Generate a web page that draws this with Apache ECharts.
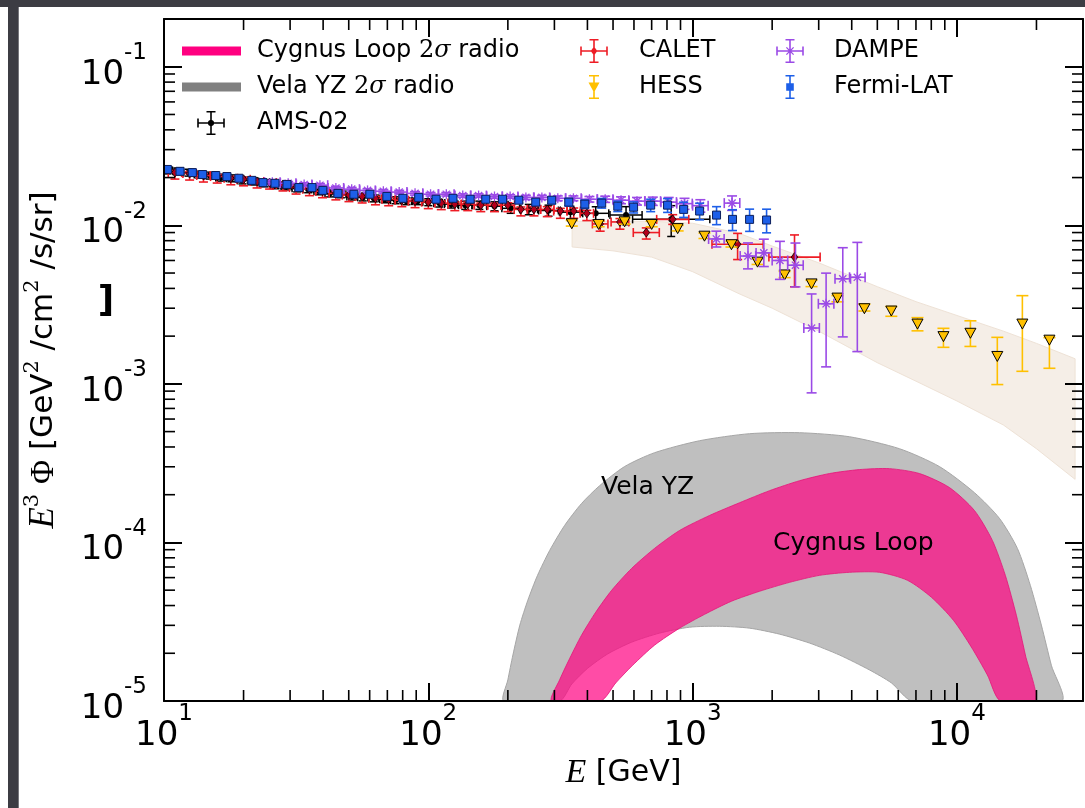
<!DOCTYPE html>
<html>
<head>
<meta charset="utf-8">
<title>Electron + positron spectrum</title>
<script src="https://cdn.jsdelivr.net/npm/echarts@6/dist/echarts.min.js"></script>
<style>
html, body { margin: 0; padding: 0; background: #ffffff; }
#chart { width: 1085px; height: 808px; }
</style>
</head>
<body>
<div id="chart"></div>
<script>
// ---------- axis ranges and tick values ----------
const xMin = 10, xMax = 30000;
const yMin = 1e-5, yMax = 0.2;
const xDecades = [10, 100, 1000, 10000];
const yDecades = [1e-5, 1e-4, 1e-3, 1e-2, 1e-1];
const minorSteps = [2, 3, 4, 5, 6, 7, 8, 9];

// ---------- AMS-02 ----------
const amsE = [10.3, 11.3, 12.4, 13.6, 14.9, 16.4, 18.0, 19.8, 21.8, 24.0, 26.4, 29.0, 31.9, 35.1, 38.6, 42.5, 46.7, 51.4, 56.5, 62.2, 68.4, 75.2, 82.7, 91.0, 100, 110, 122, 138, 156, 178, 205, 240, 285, 345, 430, 560, 830];
const amsFlux = [0.0222, 0.0219, 0.0215, 0.0209, 0.0206, 0.0200, 0.0198, 0.0192, 0.0189, 0.0184, 0.0179, 0.0176, 0.0171, 0.0169, 0.0164, 0.0159, 0.0157, 0.0152, 0.0150, 0.0148, 0.0146, 0.0144, 0.0142, 0.0142, 0.0140, 0.0138, 0.0136, 0.0134, 0.0134, 0.0132, 0.0128, 0.0126, 0.0124, 0.0121, 0.0119, 0.0116, 0.0109];
const amsErr = [0.05, 0.05, 0.05, 0.05, 0.05, 0.05, 0.05, 0.05, 0.05, 0.05, 0.05, 0.05, 0.05, 0.05, 0.05, 0.05, 0.05, 0.05, 0.05, 0.05, 0.05, 0.05, 0.05, 0.05, 0.05, 0.055, 0.055, 0.06, 0.06, 0.065, 0.07, 0.075, 0.08, 0.09, 0.1, 0.13, 0.22];
const amsBin = [0.045, 0.045, 0.045, 0.045, 0.045, 0.045, 0.045, 0.045, 0.045, 0.045, 0.045, 0.045, 0.045, 0.045, 0.045, 0.045, 0.045, 0.045, 0.045, 0.045, 0.045, 0.045, 0.045, 0.045, 0.05, 0.05, 0.06, 0.06, 0.065, 0.07, 0.08, 0.08, 0.09, 0.1, 0.12, 0.15, 0.4];

// ---------- CALET ----------
const calE = [11.0, 12.5, 14.1, 15.9, 17.9, 20.0, 22.5, 25.1, 28.2, 31.6, 35.5, 39.8, 44.7, 50.1, 56.2, 63.1, 70.8, 79.4, 89.1, 100, 112, 126, 141, 158, 178, 200, 224, 251, 282, 316, 355, 398, 447, 531, 668, 841, 1480, 2430];
const calFlux = [0.0215, 0.0212, 0.0206, 0.0203, 0.0198, 0.0195, 0.0189, 0.0186, 0.0181, 0.0173, 0.0169, 0.0164, 0.0159, 0.0155, 0.0152, 0.0148, 0.0146, 0.0144, 0.0142, 0.0140, 0.0138, 0.0136, 0.0136, 0.0134, 0.0134, 0.0134, 0.0126, 0.0126, 0.0126, 0.0123, 0.0123, 0.0119, 0.0102, 0.0105, 0.0090, 0.0109, 0.0076, 0.0063];
const calErrUp = [0.03, 0.03, 0.03, 0.03, 0.03, 0.03, 0.03, 0.03, 0.03, 0.03, 0.03, 0.03, 0.03, 0.03, 0.03, 0.03, 0.03, 0.03, 0.03, 0.03, 0.03, 0.03, 0.03, 0.03, 0.03, 0.035, 0.035, 0.04, 0.04, 0.04, 0.045, 0.045, 0.05, 0.05, 0.07, 0.07, 0.17, 0.38];
const calErrDn = [0.09, 0.09, 0.09, 0.09, 0.09, 0.09, 0.09, 0.09, 0.09, 0.09, 0.09, 0.09, 0.09, 0.09, 0.09, 0.09, 0.09, 0.09, 0.09, 0.09, 0.09, 0.09, 0.09, 0.09, 0.09, 0.09, 0.09, 0.09, 0.1, 0.1, 0.1, 0.1, 0.1, 0.1, 0.09, 0.07, 0.2, 0.35];
const calBin = [0.06, 0.06, 0.06, 0.06, 0.06, 0.06, 0.06, 0.06, 0.06, 0.06, 0.06, 0.06, 0.06, 0.06, 0.06, 0.06, 0.06, 0.06, 0.06, 0.06, 0.06, 0.06, 0.06, 0.06, 0.06, 0.06, 0.06, 0.06, 0.06, 0.06, 0.06, 0.06, 0.07, 0.08, 0.12, 0.15, 0.25, 0.25];

// ---------- HESS ----------
const hessE = [349, 441, 553, 700, 878, 1109, 1403, 1761, 2229, 2818, 3533, 4467, 5649, 7094, 8894, 11250, 14220, 17690, 22390];
const hessFlux = [0.0103, 0.0102, 0.0106, 0.0102, 0.0096, 0.0086, 0.0076, 0.0059, 0.0049, 0.0043, 0.0035, 0.0030, 0.0029, 0.0024, 0.0020, 0.0021, 0.0015, 0.0024, 0.0019];
const hessErrUp = [0.04, 0.04, 0.04, 0.04, 0.04, 0.04, 0.04, 0.04, 0.045, 0.045, 0.03, 0.06, 0.06, 0.09, 0.12, 0.19, 0.31, 0.50, 0.03];
const hessErrDn = [0.04, 0.04, 0.04, 0.04, 0.04, 0.04, 0.04, 0.04, 0.045, 0.045, 0.06, 0.04, 0.08, 0.10, 0.15, 0.18, 0.34, 0.50, 0.34];

// HESS systematic band
const sysE = [350, 500, 700, 1000, 1500, 2000, 3000, 5000, 7000, 10000, 15000, 20000, 28000];
const sysHi = [0.0106, 0.0106, 0.0106, 0.0103, 0.0089, 0.0074, 0.0058, 0.0041, 0.0033, 0.0027, 0.00215, 0.0018, 0.00144];
const sysLo = [0.0073, 0.0069, 0.0063, 0.0051, 0.0037, 0.0030, 0.00215, 0.00136, 0.00104, 0.00078, 0.00055, 0.00039, 0.00025];

// ---------- DAMPE ----------
const dampeE = [25.7, 29.5, 33.9, 38.9, 44.7, 51.3, 58.9, 67.6, 77.6, 89.1, 102, 117, 135, 155, 178, 204, 234, 269, 309, 354, 407, 467, 536, 616, 707, 812, 932, 1070, 1230, 1410, 1620, 1860, 2140, 2450, 2820, 3200, 3700, 4200];
const dampeFlux = [0.0187, 0.0184, 0.0181, 0.0179, 0.0172, 0.0169, 0.0166, 0.0164, 0.0162, 0.0159, 0.0157, 0.0157, 0.0154, 0.0154, 0.0152, 0.0152, 0.0150, 0.0150, 0.0148, 0.0148, 0.0146, 0.0146, 0.0144, 0.0142, 0.0142, 0.0140, 0.0137, 0.0133, 0.0082, 0.0138, 0.0064, 0.0067, 0.0060, 0.0056, 0.00225, 0.0032, 0.0046, 0.0047];
const dampeErrUp = [0.025, 0.025, 0.025, 0.025, 0.025, 0.025, 0.025, 0.025, 0.025, 0.025, 0.025, 0.025, 0.025, 0.025, 0.025, 0.025, 0.03, 0.03, 0.035, 0.035, 0.04, 0.045, 0.05, 0.055, 0.06, 0.07, 0.08, 0.09, 0.12, 0.11, 0.21, 0.22, 0.32, 0.38, 0.64, 0.56, 0.57, 0.66];
const dampeErrDn = [0.025, 0.025, 0.025, 0.025, 0.025, 0.025, 0.025, 0.025, 0.025, 0.025, 0.025, 0.025, 0.025, 0.025, 0.025, 0.025, 0.03, 0.03, 0.035, 0.035, 0.04, 0.045, 0.05, 0.055, 0.06, 0.07, 0.08, 0.09, 0.11, 0.10, 0.17, 0.18, 0.24, 0.27, 0.61, 0.60, 0.57, 0.66];
const dampeBin = [0.07, 0.07, 0.07, 0.07, 0.07, 0.07, 0.07, 0.07, 0.07, 0.07, 0.07, 0.07, 0.07, 0.07, 0.07, 0.07, 0.07, 0.07, 0.07, 0.07, 0.07, 0.07, 0.07, 0.07, 0.07, 0.07, 0.07, 0.07, 0.07, 0.07, 0.07, 0.07, 0.07, 0.07, 0.07, 0.07, 0.07, 0.07];

// ---------- Fermi-LAT ----------
const fermiE = [10.3, 11.5, 12.8, 14.0, 15.7, 17.3, 19.2, 21.5, 23.7, 26.3, 29.2, 32.4, 36.3, 39.9, 45.5, 52.3, 60.1, 69.7, 80.1, 92.0, 107, 124, 144, 165, 191, 220, 255, 293, 340, 391, 453, 521, 598, 694, 804, 925, 1063, 1232, 1416, 1643, 1905];
const fermiFlux = [0.0225, 0.0219, 0.0215, 0.0209, 0.0206, 0.0203, 0.0198, 0.0192, 0.0186, 0.0184, 0.0181, 0.0173, 0.0173, 0.0166, 0.0159, 0.0157, 0.0157, 0.0152, 0.0148, 0.0150, 0.0146, 0.0148, 0.0146, 0.0146, 0.0146, 0.0144, 0.0140, 0.0144, 0.0140, 0.0136, 0.0138, 0.0132, 0.0130, 0.0134, 0.0134, 0.0126, 0.0123, 0.0116, 0.0109, 0.0109, 0.0108];
const fermiErr = [0.02, 0.02, 0.02, 0.02, 0.02, 0.02, 0.02, 0.02, 0.02, 0.02, 0.025, 0.025, 0.025, 0.025, 0.025, 0.025, 0.025, 0.025, 0.025, 0.025, 0.03, 0.03, 0.035, 0.035, 0.04, 0.04, 0.045, 0.05, 0.055, 0.06, 0.07, 0.075, 0.08, 0.09, 0.1, 0.11, 0.12, 0.13, 0.15, 0.16, 0.17];

// ---------- radio-model bands ----------
const velaUpperE = [193, 200, 209, 222, 238, 259, 288, 328, 380, 445, 553, 718, 1063, 1643, 2538, 3924, 6063, 8587, 11650, 14480, 16940, 18960, 20870, 22770, 24840];
const velaUpperV = [1.0e-5, 1.36e-5, 1.95e-5, 3.01e-5, 4.32e-5, 6.20e-5, 8.91e-5, 1.28e-4, 1.76e-4, 2.28e-4, 3.01e-4, 3.68e-4, 4.38e-4, 4.85e-4, 4.92e-4, 4.64e-4, 3.90e-4, 3.01e-4, 2.06e-4, 1.42e-4, 9.17e-5, 5.36e-5, 3.01e-5, 1.68e-5, 1.0e-5];
const velaLowerE = [314, 349, 401, 477, 588, 750, 974, 1265, 1643, 2133, 2769, 3596, 4669, 5654, 6788];
const velaLowerV = [1.0e-5, 1.28e-5, 1.61e-5, 1.98e-5, 2.35e-5, 2.68e-5, 2.92e-5, 2.96e-5, 2.88e-5, 2.64e-5, 2.32e-5, 1.95e-5, 1.57e-5, 1.30e-5, 1.0e-5];

const cygUpperE = [293, 314, 343, 380, 430, 494, 588, 718, 893, 1160, 1506, 1955, 2538, 3296, 4279, 5557, 7215, 9367, 11650, 13620, 15250, 16790, 18160, 19810];
const cygUpperV = [1.0e-5, 1.36e-5, 1.86e-5, 2.60e-5, 3.63e-5, 4.99e-5, 6.86e-5, 9.17e-5, 1.19e-4, 1.48e-4, 1.78e-4, 2.12e-4, 2.45e-4, 2.72e-4, 2.88e-4, 2.92e-4, 2.72e-4, 2.22e-4, 1.59e-4, 1.03e-4, 6.20e-5, 3.47e-5, 1.95e-5, 1.0e-5];
const cygLowerE = [449, 512, 593, 718, 893, 1110, 1404, 1792, 2326, 3021, 3924, 5093, 6500, 8010, 9700, 11340, 13040, 14600];
const cygLowerV = [1.0e-5, 1.30e-5, 1.68e-5, 2.25e-5, 2.88e-5, 3.52e-5, 4.26e-5, 4.92e-5, 5.60e-5, 6.20e-5, 6.48e-5, 6.48e-5, 5.77e-5, 4.51e-5, 3.23e-5, 2.19e-5, 1.46e-5, 1.0e-5];

// ---------- styling ----------
const FONT = 'DejaVu Sans';
const PINK = '#ff0080';
const GRAY = '#808080';
const RED = '#ee1c25';
const GOLD = '#ffc000';
const PURPLE = '#9b4ae6';
const BLUE = '#1d5fe8';

function line(x1, y1, x2, y2, style) {
  return { type: 'line', shape: { x1: x1, y1: y1, x2: x2, y2: y2 }, style: style };
}

function markerShapes(kind, cx, cy) {
  if (kind === 'circle') {
    return [{ type: 'circle', shape: { cx: cx, cy: cy, r: 3 }, style: { fill: '#000' } }];
  }
  if (kind === 'diamond') {
    return [{ type: 'polygon', shape: { points: [[cx, cy - 4.5], [cx + 3.3, cy], [cx, cy + 4.5], [cx - 3.3, cy]] },
      style: { fill: '#b3001b', stroke: '#000', lineWidth: 0.8 } }];
  }
  if (kind === 'star') {
    const s = { stroke: PURPLE, lineWidth: 1.3 };
    const r = 5, d = 3.6;
    return [line(cx - r, cy, cx + r, cy, s), line(cx, cy - r, cx, cy + r, s),
            line(cx - d, cy - d, cx + d, cy + d, s), line(cx - d, cy + d, cx + d, cy - d, s)];
  }
  if (kind === 'square') {
    return [{ type: 'rect', shape: { x: cx - 4, y: cy - 4, width: 8, height: 8 },
      style: { fill: BLUE, stroke: '#0c1f5c', lineWidth: 1 } }];
  }
  if (kind === 'tri') {
    return [{ type: 'polygon', shape: { points: [[cx - 5.5, cy - 4.5], [cx + 5.5, cy - 4.5], [cx, cy + 5.5]] },
      style: { fill: GOLD, stroke: '#000', lineWidth: 1 } }];
  }
  return [];
}

// Error-bar series: vertical bars (flux range) plus optional horizontal bars (energy bin)
function errorSeries(cfg) {
  const data = cfg.E.map(function (e, i) {
    const f = cfg.flux[i];
    return [e, f, f * (1 - cfg.dn[i]), f * (1 + cfg.up[i]),
            cfg.bin ? e / (1 + cfg.bin[i]) : e, cfg.bin ? e * (1 + cfg.bin[i]) : e];
  });
  return {
    type: 'custom', name: cfg.name, coordinateSystem: 'cartesian2d', clip: true, z: 3,
    itemStyle: { color: cfg.color }, encode: { x: 0, y: 1 }, data: data,
    renderItem: function (params, api) {
      const p = api.coord([api.value(0), api.value(1)]);
      const yLo = api.coord([api.value(0), api.value(2)])[1];
      const yHi = api.coord([api.value(0), api.value(3)])[1];
      const ls = { stroke: cfg.barColor, lineWidth: cfg.lw };
      const c = cfg.cap;
      const ch = [
        line(p[0], yLo, p[0], yHi, ls),
        line(p[0] - c, yLo, p[0] + c, yLo, ls),
        line(p[0] - c, yHi, p[0] + c, yHi, ls)
      ];
      if (cfg.bin) {
        const xLo = api.coord([api.value(4), api.value(1)])[0];
        const xHi = api.coord([api.value(5), api.value(1)])[0];
        ch.push(line(xLo, p[1], xHi, p[1], ls));
        ch.push(line(xLo, p[1] - c, xLo, p[1] + c, ls));
        ch.push(line(xHi, p[1] - c, xHi, p[1] + c, ls));
      }
      return { type: 'group', children: ch.concat(markerShapes(cfg.marker, p[0], p[1])) };
    }
  };
}

// Filled band between an upper and a lower edge
function bandSeries(name, upE, upV, loE, loV, fill, stroke, legendColor, smooth) {
  const pts = upE.map(function (e, i) { return [e, upV[i]]; })
    .concat(loE.map(function (e, i) { return [e, loV[i]]; }).reverse());
  return {
    type: 'custom', name: name, coordinateSystem: 'cartesian2d', clip: true, z: 1, silent: true,
    itemStyle: { color: legendColor }, encode: { x: 0, y: 1 }, data: pts,
    renderItem: function (params, api) {
      if (params.dataIndex !== 0) return null;
      const poly = pts.map(function (p) { return api.coord(p); });
      return { type: 'polygon', shape: { points: poly, smooth: smooth },
        style: { fill: fill, stroke: stroke, lineWidth: 1 } };
    }
  };
}

// Minor (2..9) log ticks on all four sides
const minorTickSeries = {
  type: 'custom', name: 'minor ticks', coordinateSystem: 'cartesian2d', clip: false, z: 8, silent: true,
  data: [[xMin, yMin]], encode: { x: 0, y: 1 },
  renderItem: function (params, api) {
    const lo = api.coord([xMin, yMin]), hi = api.coord([xMax, yMax]);
    const s = { stroke: '#000', lineWidth: 1.6 };
    const L = 11;
    const ch = [];
    xDecades.forEach(function (d) {
      minorSteps.forEach(function (m) {
        const v = d * m;
        if (v >= xMax) return;
        const x = api.coord([v, yMin])[0];
        ch.push(line(x, lo[1], x, lo[1] - L, s));
        ch.push(line(x, hi[1], x, hi[1] + L, s));
      });
    });
    yDecades.forEach(function (d) {
      minorSteps.forEach(function (m) {
        const v = d * m;
        if (v >= yMax) return;
        const y = api.coord([xMin, v])[1];
        ch.push(line(lo[0], y, lo[0] + L, y, s));
        ch.push(line(hi[0], y, hi[0] - L, y, s));
      });
    });
    return { type: 'group', children: ch };
  }
};

// ---------- legend icons (paths in a fixed box) ----------
function segPath(x1, y1, x2, y2, w) {
  const dx = x2 - x1, dy = y2 - y1, len = Math.hypot(dx, dy);
  const nx = -dy / len * w / 2, ny = dx / len * w / 2;
  const f = function (v) { return v.toFixed(2); };
  return 'M' + f(x1 + nx) + ' ' + f(y1 + ny) + 'L' + f(x2 + nx) + ' ' + f(y2 + ny) +
         'L' + f(x2 - nx) + ' ' + f(y2 - ny) + 'L' + f(x1 - nx) + ' ' + f(y1 - ny) + 'Z';
}
function polyPath(pts) {
  let a = 0;
  for (let i = 0; i < pts.length; i++) {
    const j = (i + 1) % pts.length;
    a += pts[i][0] * pts[j][1] - pts[j][0] * pts[i][1];
  }
  if (a > 0) pts = pts.slice().reverse();
  return 'M' + pts.map(function (p) { return p[0].toFixed(2) + ' ' + p[1].toFixed(2); }).join('L') + 'Z';
}
function markerPath(kind, cx, cy) {
  if (kind === 'circle') {
    const pts = [];
    for (let k = 0; k < 10; k++) {
      const t = k / 10 * Math.PI * 2;
      pts.push([cx + 3.2 * Math.cos(t), cy + 3.2 * Math.sin(t)]);
    }
    return polyPath(pts);
  }
  if (kind === 'diamond') return polyPath([[cx, cy - 4.5], [cx + 3.3, cy], [cx, cy + 4.5], [cx - 3.3, cy]]);
  if (kind === 'square') return polyPath([[cx - 3.8, cy - 3.8], [cx + 3.8, cy - 3.8], [cx + 3.8, cy + 3.8], [cx - 3.8, cy + 3.8]]);
  if (kind === 'tri') return polyPath([[cx - 5.5, cy - 4.5], [cx + 5.5, cy - 4.5], [cx, cy + 5.5]]);
  if (kind === 'star') {
    return segPath(cx - 5, cy, cx + 5, cy, 1.3) + segPath(cx, cy - 5, cx, cy + 5, 1.3) +
           segPath(cx - 3.6, cy - 3.6, cx + 3.6, cy + 3.6, 1.3) + segPath(cx - 3.6, cy + 3.6, cx + 3.6, cy - 3.6, 1.3);
  }
  return '';
}
function boxPrefix(W) { return 'M0 0M' + W + ' 24'; }
function bandIcon(W) {
  return 'path://' + boxPrefix(W) + polyPath([[0, 7.5], [59, 7.5], [59, 16.5], [0, 16.5]]);
}
function errIcon(W, cx, withBin, marker, cap) {
  const lw = 1.6, h = 13, v = 11.2;
  let p = boxPrefix(W);
  p += segPath(cx, 12 - v, cx, 12 + v, lw);
  p += segPath(cx - cap, 12 - v, cx + cap, 12 - v, lw);
  p += segPath(cx - cap, 12 + v, cx + cap, 12 + v, lw);
  if (withBin) {
    p += segPath(cx - h, 12, cx + h, 12, lw);
    p += segPath(cx - h, 12 - cap, cx - h, 12 + cap, lw);
    p += segPath(cx + h, 12 - cap, cx + h, 12 + cap, lw);
  }
  return 'path://' + p + markerPath(marker, cx, 12);
}

const legendText = {
  fontSize: 24, fontFamily: FONT, color: '#000', lineHeight: 24,
  rich: {
    n: { fontFamily: 'DejaVu Serif', fontSize: 24, lineHeight: 24 },
    m: { fontFamily: 'DejaVu Serif', fontStyle: 'italic', fontSize: 24, lineHeight: 24 }
  }
};
function legendFormatter(name) { return name.replace('2σ', '{n|2}{m|σ}'); }
function legendBlock(left, W, items) {
  return {
    orient: 'vertical', left: left, top: 39, padding: 0, itemGap: 12,
    itemWidth: W, itemHeight: 24, selectedMode: false,
    itemStyle: { borderWidth: 0 },
    textStyle: legendText, formatter: legendFormatter, data: items
  };
}

// ---------- axes ----------
const labelRich = {
  b: { fontSize: 34, fontFamily: FONT, color: '#000', lineHeight: 50, verticalAlign: 'bottom' },
  s: { fontSize: 23, fontFamily: FONT, color: '#000', lineHeight: 20, verticalAlign: 'top' }
};
function powLabel(v) {
  const l = Math.log10(v), e = Math.round(l);
  if (Math.abs(l - e) > 1e-6) return '';
  return '{b|10}{s|' + e + '}';
}
const axisLine = { show: true, onZero: false, lineStyle: { color: '#000', width: 2 } };
const majorTick = { show: true, inside: true, length: 18, lineStyle: { color: '#000', width: 2 } };

const option = {
  animation: false,
  backgroundColor: '#ffffff',
  grid: { left: 164, right: 2, top: 19, bottom: 107, outerBoundsMode: 'none', containLabel: false },
  xAxis: [
    {
      type: 'log', logBase: 10, min: xMin, max: xMax, position: 'bottom', z: 10,
      axisLine: axisLine, axisTick: majorTick, splitLine: { show: false }, minorTick: { show: false },
      axisLabel: { margin: 2, formatter: powLabel, rich: labelRich, showMinLabel: true, showMaxLabel: true },
      name: '{i|E} [GeV]', nameLocation: 'middle', nameGap: 52, nameMoveOverlap: false,
      nameTextStyle: {
        fontSize: 30, fontFamily: FONT, color: '#000', lineHeight: 40,
        rich: { i: { fontFamily: 'Liberation Serif', fontStyle: 'italic', fontSize: 34, lineHeight: 40 } }
      }
    },
    {
      type: 'log', logBase: 10, min: xMin, max: xMax, position: 'top', z: 10,
      axisLine: axisLine, axisTick: majorTick, splitLine: { show: false },
      axisLabel: { show: false }
    }
  ],
  yAxis: [
    {
      type: 'log', logBase: 10, min: yMin, max: yMax, position: 'left', z: 10,
      axisLine: axisLine, axisTick: majorTick, splitLine: { show: false }, minorTick: { show: false },
      axisLabel: { margin: 17, formatter: powLabel, rich: labelRich, showMinLabel: true, showMaxLabel: true },
      name: '{i|E}{sup|3} {ph|Φ} [GeV{sup|2} /cm{sup|2} /s/sr]',
      nameLocation: 'middle', nameRotate: 90, nameGap: 98, nameMoveOverlap: false,
      nameTextStyle: {
        fontSize: 31, fontFamily: FONT, color: '#000', lineHeight: 44,
        rich: {
          i: { fontFamily: 'Liberation Serif', fontStyle: 'italic', fontSize: 35, lineHeight: 44 },
          ph: { fontFamily: 'Liberation Serif', fontSize: 33, lineHeight: 44 },
          sup: { fontFamily: 'DejaVu Serif', fontSize: 21, lineHeight: 18, verticalAlign: 'top' }
        }
      }
    },
    {
      type: 'log', logBase: 10, min: yMin, max: yMax, position: 'right', z: 10,
      axisLine: axisLine, axisTick: majorTick, splitLine: { show: false },
      axisLabel: { show: false }
    }
  ],
  legend: [
    legendBlock(182, 70, [
      { name: 'Cygnus Loop 2σ radio', icon: bandIcon(70), itemStyle: { color: PINK } },
      { name: 'Vela YZ 2σ radio', icon: bandIcon(70), itemStyle: { color: GRAY } },
      { name: 'AMS-02', icon: errIcon(70, 29, true, 'circle', 4.5), itemStyle: { color: '#000' } }
    ]),
    legendBlock(575, 59, [
      { name: 'CALET', icon: errIcon(59, 19, true, 'diamond', 4.5), itemStyle: { color: RED } },
      { name: 'HESS', icon: errIcon(59, 19, false, 'tri', 5), itemStyle: { color: GOLD } }
    ]),
    legendBlock(771, 58, [
      { name: 'DAMPE', icon: errIcon(58, 19, true, 'star', 4.5), itemStyle: { color: PURPLE } },
      { name: 'Fermi-LAT', icon: errIcon(58, 19, false, 'square', 4.5), itemStyle: { color: BLUE } }
    ])
  ],
  series: [
    bandSeries('HESS systematics', sysE, sysHi, sysE, sysLo, '#f5eee7', '#eee2d6', '#f5eee7', 0),
    bandSeries('Vela YZ 2σ radio', velaUpperE, velaUpperV, velaLowerE, velaLowerV, 'rgba(128,128,128,0.5)', '#a6a6a6', GRAY, 0.25),
    bandSeries('Cygnus Loop 2σ radio', cygUpperE, cygUpperV, cygLowerE, cygLowerV, 'rgba(255,0,128,0.7)', 'rgba(230,20,120,0.8)', PINK, 0.25),
    errorSeries({ name: 'AMS-02', E: amsE, flux: amsFlux, up: amsErr, dn: amsErr, bin: amsBin,
      color: '#000', barColor: '#000', lw: 1.5, cap: 4, marker: 'circle' }),
    errorSeries({ name: 'CALET', E: calE, flux: calFlux, up: calErrUp, dn: calErrDn, bin: calBin,
      color: RED, barColor: RED, lw: 1.6, cap: 4.5, marker: 'diamond' }),
    errorSeries({ name: 'HESS', E: hessE, flux: hessFlux, up: hessErrUp, dn: hessErrDn, bin: null,
      color: GOLD, barColor: GOLD, lw: 1.6, cap: 6, marker: 'tri' }),
    errorSeries({ name: 'DAMPE', E: dampeE, flux: dampeFlux, up: dampeErrUp, dn: dampeErrDn, bin: dampeBin,
      color: PURPLE, barColor: PURPLE, lw: 1.6, cap: 5, marker: 'star' }),
    errorSeries({ name: 'Fermi-LAT', E: fermiE, flux: fermiFlux, up: fermiErr, dn: fermiErr, bin: null,
      color: BLUE, barColor: BLUE, lw: 1.6, cap: 4.5, marker: 'square' }),
    minorTickSeries
  ],
  graphic: {
    elements: [
      // dark frame strips
      { type: 'rect', x: 0, y: 0, shape: { width: 1085, height: 7 }, style: { fill: '#3c3c43' }, z: 100 },
      { type: 'rect', x: 8, y: 0, shape: { width: 11, height: 808 }, style: { fill: '#3c3c43' }, z: 100 },
      { type: 'rect', x: 18, y: 7, shape: { width: 1, height: 801 }, style: { fill: '#77777d' }, z: 100 },
      // bracket left of the axis title
      { type: 'text', x: 106, y: 302, z: 100,
        style: { text: ']', font: 'bold 36px "DejaVu Sans"', fill: '#000', align: 'center', verticalAlign: 'middle' } },
      // band annotations
      { type: 'text', x: 601, y: 487, z: 100,
        style: { text: 'Vela YZ', font: '25px "DejaVu Sans"', fill: '#000', align: 'left', verticalAlign: 'middle' } },
      { type: 'text', x: 773, y: 543, z: 100,
        style: { text: 'Cygnus Loop', font: '25px "DejaVu Sans"', fill: '#000', align: 'left', verticalAlign: 'middle' } }
    ]
  }
};

const chart = echarts.init(document.getElementById('chart'), null, { renderer: 'canvas' });
chart.setOption(option);
</script>
</body>
</html>
